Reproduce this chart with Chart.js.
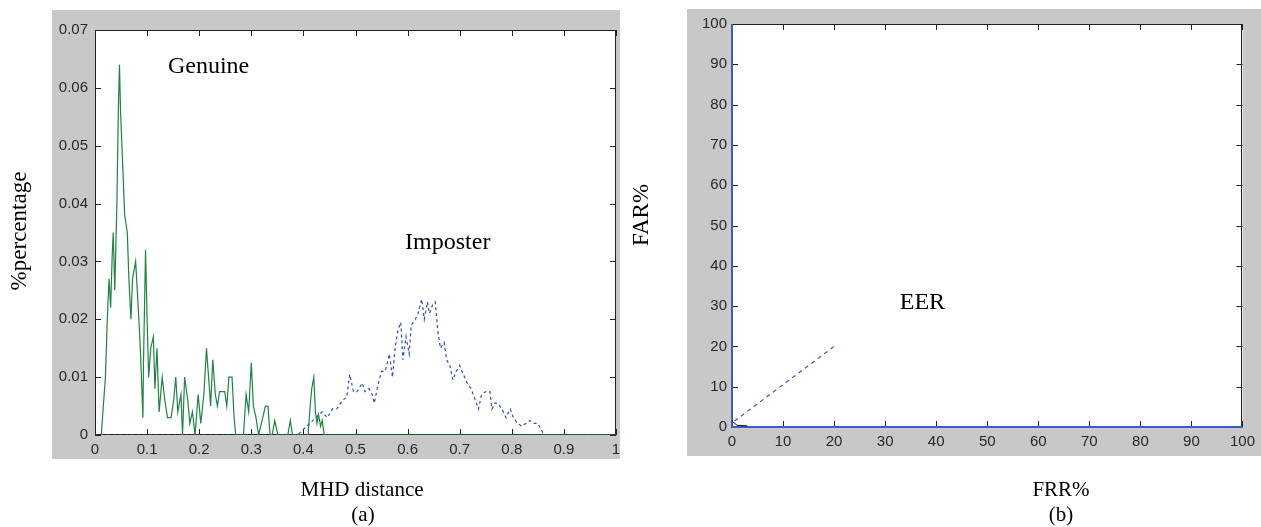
<!DOCTYPE html>
<html>
<head>
<meta charset="utf-8">
<script src="https://cdn.jsdelivr.net/npm/chart.js@4.4.1/dist/chart.umd.min.js"></script>
<style>
html, body { margin: 0; padding: 0; background: #fff; width: 1261px; height: 527px; overflow: hidden; }
canvas { position: absolute; top: 0; }
#dist { left: 0; }
#roc { left: 630px; }
</style>
</head>
<body>
<canvas id="dist" width="630" height="527"></canvas>
<canvas id="roc" width="631" height="527"></canvas>
<script>
// (a) score distributions
const genuineX = [
    0.012, 0.016, 0.02, 0.024, 0.027, 0.03, 0.033, 0.035, 0.038, 0.042,
    0.045, 0.047, 0.049, 0.053, 0.057, 0.062, 0.065, 0.069, 0.072, 0.078,
    0.083, 0.087, 0.092, 0.093, 0.097, 0.1, 0.103, 0.107, 0.112, 0.115,
    0.119, 0.123, 0.129, 0.134, 0.139, 0.146, 0.151, 0.155, 0.159, 0.165,
    0.168, 0.172, 0.178, 0.182, 0.187, 0.192, 0.198, 0.203, 0.209, 0.214,
    0.218, 0.222, 0.226, 0.231, 0.235, 0.239, 0.249, 0.253, 0.257, 0.263,
    0.267, 0.27, 0.285, 0.29, 0.295, 0.3, 0.304, 0.309, 0.314, 0.322,
    0.327, 0.332, 0.336, 0.34, 0.345, 0.351, 0.37, 0.375, 0.379, 0.409,
    0.413, 0.416, 0.42, 0.423, 0.426, 0.429, 0.433, 0.436, 0.44, 1
]
const genuineY = [
    0, 0.005, 0.01, 0.021, 0.027, 0.022, 0.031, 0.035, 0.025, 0.04,
    0.057, 0.064, 0.056, 0.047, 0.038, 0.035, 0.027, 0.02, 0.027, 0.03,
    0.022, 0.015, 0.003, 0.012, 0.032, 0.02, 0.01, 0.015, 0.017, 0.008,
    0.015, 0.004, 0.01, 0.006, 0.003, 0.003, 0.006, 0.01, 0.004, 0.007,
    0, 0.01, 0.006, 0.002, 0.004, 0, 0.007, 0.002, 0.007, 0.015,
    0.01, 0.005, 0.013, 0.007, 0.005, 0.0075, 0.0075, 0.005, 0.01, 0.01,
    0.003, 0, 0, 0.007, 0.004, 0.0125, 0.005, 0.003, 0, 0.003,
    0.005, 0.005, 0, 0, 0.0025, 0, 0, 0.0025, 0, 0,
    0.005, 0.008, 0.01, 0.004, 0.002, 0.0035, 0.0015, 0.0025, 0, 0
]
const imposterX = [
    0, 0.389, 0.4, 0.412, 0.424, 0.436, 0.446, 0.456, 0.464, 0.475,
    0.483, 0.489, 0.496, 0.503, 0.513, 0.518, 0.526, 0.532, 0.536, 0.544,
    0.55, 0.557, 0.565, 0.571, 0.576, 0.581, 0.587, 0.591, 0.597, 0.603,
    0.607, 0.615, 0.62, 0.627, 0.632, 0.638, 0.642, 0.648, 0.653, 0.658,
    0.663, 0.67, 0.675, 0.681, 0.687, 0.693, 0.7, 0.707, 0.714, 0.722,
    0.73, 0.736, 0.742, 0.75, 0.758, 0.762, 0.767, 0.773, 0.781, 0.789,
    0.797, 0.803, 0.811, 0.819, 0.827, 0.835, 0.843, 0.85, 0.856, 0.862, 1
]
const imposterY = [
    0, 0, 0.001, 0.002, 0.003, 0.004, 0.003, 0.0045, 0.0045, 0.006,
    0.0065, 0.0105, 0.0075, 0.0075, 0.009, 0.0075, 0.008, 0.007, 0.0055, 0.009,
    0.011, 0.011, 0.014, 0.01, 0.015, 0.018, 0.0195, 0.013, 0.017, 0.014,
    0.019, 0.02, 0.021, 0.0235, 0.02, 0.023, 0.021, 0.0225, 0.023, 0.018,
    0.015, 0.016, 0.013, 0.012, 0.0095, 0.011, 0.012, 0.0105, 0.009, 0.008,
    0.006, 0.0045, 0.007, 0.0075, 0.0075, 0.0045, 0.0055, 0.0055, 0.0045, 0.003,
    0.0045, 0.003, 0.002, 0.0015, 0.002, 0.0025, 0.002, 0.002, 0.001, 0, 0
]

// (b) FRR / FAR
const rocFrr = [0, 0, 100]
const rocFar = [100, 0, 0]
const eerFrr = [0.5, 20]
const eerFar = [1.5, 20]
const nearFrr = [0, 1, 3]
const nearFar = [1.5, 0.4, 0.3]

const serif = '"Liberation Serif", "Times New Roman", serif'
const tickFont = { family: '"Liberation Sans", Arial, sans-serif', size: 15 }
const tickColor = '#2a2630'

const points = (xs, ys) => xs.map((x, i) => ({ x: x, y: ys[i] }))
const cleanNum = v => String(Number(v.toFixed(2)))

// gray MATLAB-like figure, boxed axes with inward ticks, text notes
const paper = {
    id: 'paper',
    beforeDraw(chart, args, o) {
        const { ctx, chartArea: a } = chart
        ctx.save()
        ctx.fillStyle = '#c8c8c8'
        ctx.fillRect(o.gray[0], o.gray[1], o.gray[2] - o.gray[0], o.gray[3] - o.gray[1])
        ctx.fillStyle = '#fff'
        ctx.fillRect(a.left, a.top, a.width, a.height)
        ctx.restore()
    },
    beforeDatasetsDraw(chart) {
        const { ctx, chartArea: a, scales } = chart
        ctx.save()
        ctx.strokeStyle = '#222'
        ctx.lineWidth = 1
        ctx.strokeRect(Math.round(a.left) + 0.5, Math.round(a.top) + 0.5,
            Math.round(a.width) - 1, Math.round(a.height) - 1)
        ctx.beginPath()
        scales.x.ticks.forEach(t => {
            const p = Math.round(scales.x.getPixelForValue(t.value)) + 0.5
            ctx.moveTo(p, a.bottom); ctx.lineTo(p, a.bottom - 6)
            ctx.moveTo(p, a.top); ctx.lineTo(p, a.top + 6)
        })
        scales.y.ticks.forEach(t => {
            const p = Math.round(scales.y.getPixelForValue(t.value)) + 0.5
            ctx.moveTo(a.left, p); ctx.lineTo(a.left + 6, p)
            ctx.moveTo(a.right, p); ctx.lineTo(a.right - 6, p)
        })
        ctx.stroke()
        ctx.restore()
    },
    afterDraw(chart, args, o) {
        const { ctx, scales } = chart
        ctx.save()
        ctx.fillStyle = '#000'
        ctx.textAlign = 'center'
        ctx.textBaseline = 'middle'
        ctx.font = '24px ' + serif
        o.notes.forEach(n => {
            ctx.fillText(n.text, scales.x.getPixelForValue(n.x), scales.y.getPixelForValue(n.y))
        })
        o.captions.forEach(c => {
            ctx.save()
            ctx.font = c.size + 'px ' + serif
            ctx.translate(c.x, c.y)
            ctx.rotate(c.rot || 0)
            ctx.fillText(c.text, 0, 0)
            ctx.restore()
        })
        ctx.restore()
    }
}

const axisBase = {
    type: 'linear',
    grid: { display: false, drawTicks: false },
    border: { display: false },
}

new Chart(document.getElementById('dist'), {
    type: 'line',
    data: {
        datasets: [
            { data: points(genuineX, genuineY), borderColor: '#1d8443', borderWidth: 1.2 },
            { data: points(imposterX, imposterY), borderColor: '#2d4fb4', borderWidth: 1.2, borderDash: [3, 3] }
        ]
    },
    options: {
        responsive: false,
        animation: false,
        devicePixelRatio: 1,
        layout: { padding: { left: 0, top: 30, right: 14, bottom: 0 } },
        elements: { point: { radius: 0 }, line: { tension: 0 } },
        plugins: {
            legend: { display: false },
            tooltip: { enabled: false },
            paper: {
                gray: [52, 10, 620, 459],
                notes: [
                    { text: 'Genuine', x: 0.218, y: 0.0636 },
                    { text: 'Imposter', x: 0.677, y: 0.0332 }
                ],
                captions: [
                    { text: '%percentage', x: 20, y: 231, size: 23, rot: -Math.PI / 2 },
                    { text: 'MHD distance', x: 362, y: 490, size: 21 },
                    { text: '(a)', x: 363, y: 515, size: 21 }
                ]
            }
        },
        scales: {
            x: {
                ...axisBase, min: 0, max: 1,
                ticks: { stepSize: 0.1, padding: 6, color: tickColor, font: tickFont, maxRotation: 0, callback: cleanNum },
                afterFit: s => { s.height = 92 }
            },
            y: {
                ...axisBase, min: 0, max: 0.07,
                ticks: { stepSize: 0.01, padding: 7, color: tickColor, font: tickFont, callback: cleanNum },
                afterFit: s => { s.width = 95 }
            }
        }
    },
    plugins: [paper]
});

new Chart(document.getElementById('roc'), {
    type: 'line',
    data: {
        datasets: [
            { data: points(nearFrr, nearFar), borderColor: '#111', borderWidth: 1 },
            { data: points(eerFrr, eerFar), borderColor: '#3657c0', borderWidth: 1.2, borderDash: [4, 4] },
            { data: points(rocFrr, rocFar), borderColor: '#3a5cc6', borderWidth: 2, clip: false }
        ]
    },
    options: {
        responsive: false,
        animation: false,
        devicePixelRatio: 1,
        layout: { padding: { left: 0, top: 24, right: 17, bottom: 0 } },
        elements: { point: { radius: 0 }, line: { tension: 0 } },
        plugins: {
            legend: { display: false },
            tooltip: { enabled: false },
            paper: {
                gray: [57, 9, 631, 456],
                notes: [
                    { text: 'EER', x: 37.3, y: 30.8 }
                ],
                captions: [
                    { text: 'FAR%', x: 12, y: 215, size: 23, rot: -Math.PI / 2 },
                    { text: 'FRR%', x: 431, y: 490, size: 21 },
                    { text: '(b)', x: 431, y: 515, size: 21 }
                ]
            }
        },
        scales: {
            x: {
                ...axisBase, min: 0, max: 100,
                ticks: { stepSize: 10, padding: 6, color: tickColor, font: tickFont, maxRotation: 0 },
                afterFit: s => { s.height = 100 }
            },
            y: {
                ...axisBase, min: 0, max: 100,
                ticks: { stepSize: 10, padding: 5, color: tickColor, font: tickFont },
                afterFit: s => { s.width = 102 }
            }
        }
    },
    plugins: [paper]
});
</script>
</body>
</html>
